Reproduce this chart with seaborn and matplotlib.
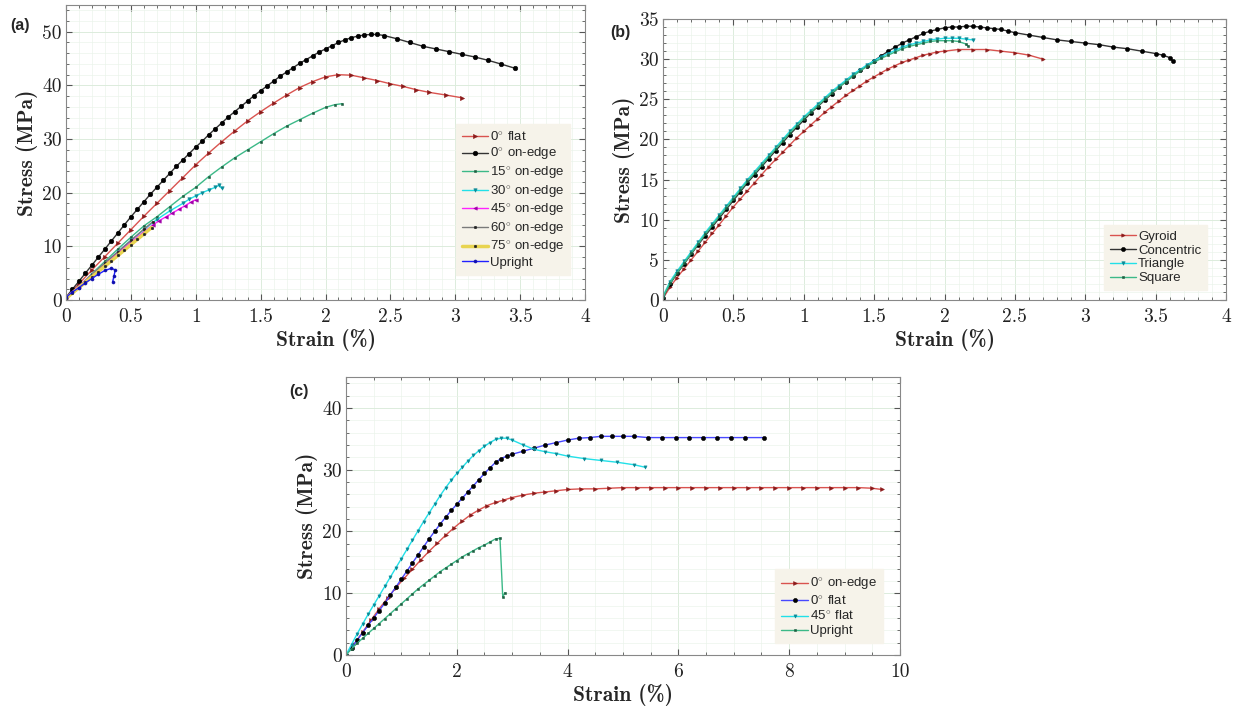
import matplotlib
matplotlib.use("Agg")
import matplotlib.pyplot as plt
import seaborn as sns
from matplotlib.ticker import MultipleLocator, FuncFormatter

# ---------------- (a) build orientation ----------------
a_flat0_x = [0, 0.1, 0.2, 0.3, 0.4, 0.5, 0.6, 0.7, 0.8, 0.9, 1.0, 1.1, 1.2, 1.3, 1.4, 1.5, 1.6, 1.7,
             1.8, 1.9, 2.0, 2.1, 2.2, 2.3, 2.4, 2.5, 2.6, 2.7, 2.8, 2.93, 3.05]
a_flat0_y = [0.5, 3.0, 5.6, 8.1, 10.6, 13.1, 15.6, 18.0, 20.4, 22.8, 25.2, 27.4, 29.5, 31.5, 33.4, 35.1,
             36.7, 38.2, 39.6, 40.7, 41.6, 42.0, 41.9, 41.4, 40.9, 40.3, 39.8, 39.2, 38.7, 38.2, 37.7]

a_edge0_x = [0, 0.05, 0.1, 0.15, 0.2, 0.25, 0.3, 0.35, 0.4, 0.45, 0.5, 0.55, 0.6, 0.65, 0.7, 0.75, 0.8,
             0.85, 0.9, 0.95, 1.0, 1.05, 1.1, 1.15, 1.2, 1.25, 1.3, 1.35, 1.4, 1.45, 1.5, 1.55, 1.6, 1.65,
             1.7, 1.75, 1.8, 1.85, 1.9, 1.95, 2.0, 2.05, 2.1, 2.15, 2.2, 2.25, 2.3, 2.35, 2.4, 2.45, 2.55,
             2.65, 2.75, 2.85, 2.95, 3.05, 3.15, 3.25, 3.35, 3.46]
a_edge0_y = [0.5, 2.0, 3.5, 5.0, 6.5, 8.0, 9.5, 11.0, 12.5, 14.0, 15.5, 16.9, 18.3, 19.7, 21.0, 22.3, 23.6,
             24.9, 26.1, 27.3, 28.5, 29.6, 30.8, 31.9, 33.0, 34.1, 35.1, 36.1, 37.1, 38.1, 39.0, 39.9, 40.8,
             41.7, 42.5, 43.3, 44.1, 44.8, 45.5, 46.2, 46.8, 47.4, 48.0, 48.5, 48.9, 49.2, 49.4, 49.5, 49.5,
             49.3, 48.7, 48.0, 47.3, 46.8, 46.3, 45.8, 45.3, 44.7, 44.0, 43.2]

a_edge15_x = [0, 0.1, 0.2, 0.3, 0.4, 0.5, 0.6, 0.7, 0.8, 0.9, 1.0, 1.1, 1.2, 1.3, 1.4, 1.5, 1.6, 1.7,
              1.8, 1.9, 2.0, 2.07, 2.13]
a_edge15_y = [0.2, 2.5, 4.9, 7.2, 9.5, 11.7, 13.8, 15.5, 17.4, 19.3, 21.0, 23.0, 24.8, 26.5, 28.0, 29.5,
              31.0, 32.4, 33.6, 34.8, 35.9, 36.4, 36.6]

a_edge30_x = [0, 0.1, 0.2, 0.3, 0.4, 0.5, 0.6, 0.7, 0.8, 0.9, 0.95, 1.0, 1.05, 1.1, 1.15, 1.18, 1.2]
a_edge30_y = [0.3, 2.4, 4.6, 6.8, 9.0, 11.1, 13.1, 15.0, 16.6, 18.0, 18.8, 19.4, 20.0, 20.5, 21.0, 21.4, 20.8]

a_edge45_x = [0, 0.1, 0.2, 0.3, 0.4, 0.5, 0.6, 0.67, 0.72, 0.77, 0.82, 0.87, 0.92, 0.96, 1.0]
a_edge45_y = [0.5, 2.6, 4.7, 6.8, 8.8, 10.8, 12.7, 14.0, 14.8, 15.5, 16.2, 16.9, 17.6, 18.2, 18.7]

a_edge60_x = [0, 0.1, 0.2, 0.3, 0.4, 0.5, 0.6, 0.67]
a_edge60_y = [0.3, 2.5, 4.7, 6.9, 9.0, 11.1, 13.2, 14.6]

a_edge75_x = [0, 0.05, 0.1, 0.15, 0.2, 0.25, 0.3, 0.35, 0.4, 0.45, 0.5, 0.55, 0.6, 0.66]
a_edge75_y = [0.3, 1.3, 2.3, 3.3, 4.3, 5.3, 6.3, 7.3, 8.3, 9.3, 10.3, 11.3, 12.3, 13.5]

a_up_x = [0, 0.05, 0.1, 0.15, 0.2, 0.25, 0.3, 0.35, 0.38, 0.37, 0.36]
a_up_y = [0.5, 1.5, 2.3, 3.2, 4.0, 4.8, 5.5, 5.9, 5.6, 4.5, 3.4]

# ---------------- (b) infill pattern ----------------
b_gyr_x = [0, 0.05, 0.1, 0.15, 0.2, 0.25, 0.3, 0.35, 0.4, 0.45, 0.5, 0.55, 0.6, 0.65, 0.7, 0.75, 0.8,
           0.85, 0.9, 0.95, 1.0, 1.05, 1.1, 1.15, 1.2, 1.25, 1.3, 1.35, 1.4, 1.45, 1.5, 1.55, 1.6, 1.65,
           1.7, 1.75, 1.8, 1.85, 1.9, 1.95, 2.0, 2.1, 2.2, 2.3, 2.4, 2.5, 2.6, 2.7]
b_gyr_y = [0.2, 1.6, 2.8, 3.9, 5.0, 6.1, 7.2, 8.3, 9.4, 10.5, 11.6, 12.6, 13.6, 14.6, 15.6, 16.6, 17.5,
           18.4, 19.3, 20.2, 21.0, 21.8, 22.6, 23.4, 24.1, 24.8, 25.5, 26.1, 26.7, 27.3, 27.8, 28.3, 28.8,
           29.2, 29.6, 29.9, 30.2, 30.5, 30.7, 30.9, 31.0, 31.2, 31.2, 31.2, 31.0, 30.8, 30.5, 30.0]

b_con_x = [0, 0.05, 0.1, 0.15, 0.2, 0.25, 0.3, 0.35, 0.4, 0.45, 0.5, 0.55, 0.6, 0.65, 0.7, 0.75, 0.8,
           0.85, 0.9, 0.95, 1.0, 1.05, 1.1, 1.15, 1.2, 1.25, 1.3, 1.35, 1.4, 1.45, 1.5, 1.55, 1.6, 1.65,
           1.7, 1.75, 1.8, 1.85, 1.9, 1.95, 2.0, 2.05, 2.1, 2.15, 2.2, 2.25, 2.3, 2.35, 2.4, 2.45, 2.5,
           2.6, 2.7, 2.8, 2.9, 3.0, 3.1, 3.2, 3.3, 3.4, 3.5, 3.55, 3.6, 3.62]
b_con_y = [0.3, 2.0, 3.3, 4.5, 5.7, 6.9, 8.0, 9.1, 10.2, 11.3, 12.4, 13.5, 14.6, 15.6, 16.6, 17.6, 18.6,
           19.6, 20.6, 21.5, 22.4, 23.3, 24.1, 24.9, 25.7, 26.5, 27.2, 27.9, 28.6, 29.2, 29.8, 30.4, 31.0,
           31.5, 32.0, 32.4, 32.8, 33.2, 33.5, 33.7, 33.9, 34.0, 34.0, 34.1, 34.1, 34.0, 33.9, 33.8, 33.7,
           33.5, 33.3, 33.0, 32.7, 32.4, 32.2, 32.0, 31.8, 31.5, 31.3, 31.0, 30.7, 30.5, 30.2, 29.8]

b_tri_x = [0, 0.05, 0.1, 0.15, 0.2, 0.25, 0.3, 0.35, 0.4, 0.45, 0.5, 0.55, 0.6, 0.65, 0.7, 0.75, 0.8,
           0.85, 0.9, 0.95, 1.0, 1.05, 1.1, 1.15, 1.2, 1.25, 1.3, 1.35, 1.4, 1.45, 1.5, 1.55, 1.6, 1.65,
           1.7, 1.75, 1.8, 1.85, 1.9, 1.95, 2.0, 2.05, 2.1, 2.15, 2.2]
b_tri_y = [0.5, 2.3, 3.6, 4.8, 6.0, 7.2, 8.4, 9.5, 10.6, 11.7, 12.8, 13.9, 15.0, 16.0, 17.0, 18.0, 19.0,
           20.0, 21.0, 21.9, 22.8, 23.6, 24.4, 25.2, 26.0, 26.7, 27.4, 28.1, 28.7, 29.3, 29.8, 30.3, 30.7,
           31.1, 31.5, 31.8, 32.0, 32.2, 32.4, 32.5, 32.6, 32.6, 32.6, 32.5, 32.4]

b_sq_x = [0, 0.05, 0.1, 0.15, 0.2, 0.25, 0.3, 0.35, 0.4, 0.45, 0.5, 0.55, 0.6, 0.65, 0.7, 0.75, 0.8,
          0.85, 0.9, 0.95, 1.0, 1.05, 1.1, 1.15, 1.2, 1.25, 1.3, 1.35, 1.4, 1.45, 1.5, 1.55, 1.6, 1.65,
          1.7, 1.75, 1.8, 1.85, 1.9, 1.95, 2.0, 2.05, 2.1, 2.15, 2.17]
b_sq_y = [0.4, 2.1, 3.4, 4.6, 5.8, 7.0, 8.2, 9.3, 10.4, 11.5, 12.6, 13.7, 14.8, 15.8, 16.8, 17.8, 18.8,
          19.8, 20.8, 21.7, 22.6, 23.4, 24.2, 25.0, 25.8, 26.5, 27.2, 27.9, 28.5, 29.1, 29.6, 30.1, 30.5,
          30.9, 31.3, 31.6, 31.8, 32.0, 32.2, 32.3, 32.3, 32.3, 32.2, 31.9, 31.6]

# ---------------- (c) printing orientation ----------------
c_edge0_x = [0, 0.15, 0.3, 0.45, 0.6, 0.75, 0.9, 1.05, 1.2, 1.35, 1.5, 1.65, 1.8, 1.95, 2.1, 2.25, 2.4,
             2.55, 2.7, 2.85, 3.0, 3.2, 3.4, 3.6, 3.8, 4.0, 4.25, 4.5, 4.75, 5.0, 5.25, 5.5, 5.75, 6.0,
             6.25, 6.5, 6.75, 7.0, 7.25, 7.5, 7.75, 8.0, 8.25, 8.5, 8.75, 9.0, 9.25, 9.5, 9.67]
c_edge0_y = [0, 1.8, 3.7, 5.6, 7.5, 9.2, 10.9, 12.4, 13.9, 15.4, 16.8, 18.1, 19.4, 20.6, 21.7, 22.7, 23.5,
             24.2, 24.7, 25.1, 25.5, 25.9, 26.2, 26.4, 26.6, 26.8, 26.9, 26.9, 27.0, 27.1, 27.1, 27.1,
             27.1, 27.1, 27.1, 27.1, 27.1, 27.1, 27.1, 27.1, 27.1, 27.1, 27.1, 27.1, 27.1, 27.1, 27.1,
             27.0, 26.8]

c_flat0_x = [0, 0.1, 0.2, 0.3, 0.4, 0.5, 0.6, 0.7, 0.8, 0.9, 1.0, 1.1, 1.2, 1.3, 1.4, 1.5, 1.6, 1.7,
             1.8, 1.9, 2.0, 2.1, 2.2, 2.3, 2.4, 2.5, 2.6, 2.7, 2.8, 2.9, 3.0, 3.2, 3.4, 3.6, 3.8, 4.0,
             4.2, 4.4, 4.6, 4.8, 5.0, 5.2, 5.45, 5.7, 5.95, 6.2, 6.45, 6.7, 6.95, 7.2, 7.55]
c_flat0_y = [0, 1.2, 2.4, 3.6, 4.8, 6.0, 7.2, 8.4, 9.7, 11.0, 12.3, 13.6, 14.9, 16.2, 17.5, 18.8, 20.0,
             21.2, 22.3, 23.4, 24.4, 25.4, 26.4, 27.4, 28.4, 29.4, 30.3, 31.2, 31.8, 32.2, 32.5, 33.0,
             33.5, 34.0, 34.4, 34.8, 35.1, 35.2, 35.4, 35.4, 35.4, 35.4, 35.2, 35.2, 35.2, 35.2, 35.2,
             35.2, 35.2, 35.2, 35.2]

c_flat45_x = [0, 0.1, 0.2, 0.3, 0.4, 0.5, 0.6, 0.7, 0.8, 0.9, 1.0, 1.1, 1.2, 1.3, 1.4, 1.5, 1.6, 1.7,
              1.8, 1.9, 2.0, 2.1, 2.2, 2.3, 2.4, 2.5, 2.6, 2.7, 2.8, 2.9, 3.0, 3.2, 3.4, 3.6, 3.8, 4.0,
              4.3, 4.6, 4.9, 5.2, 5.4]
c_flat45_y = [0, 1.7, 3.4, 5.0, 6.6, 8.1, 9.6, 11.1, 12.6, 14.1, 15.6, 17.1, 18.6, 20.1, 21.6, 23.0,
              24.4, 25.8, 27.1, 28.3, 29.4, 30.4, 31.4, 32.3, 33.1, 33.8, 34.4, 34.9, 35.1, 35.1, 34.8,
              34.0, 33.3, 32.9, 32.6, 32.2, 31.8, 31.5, 31.2, 30.8, 30.4]

c_up_x = [0, 0.1, 0.2, 0.3, 0.4, 0.5, 0.6, 0.7, 0.8, 0.9, 1.0, 1.1, 1.2, 1.3, 1.4, 1.5, 1.6, 1.7, 1.8,
          1.9, 2.0, 2.1, 2.2, 2.3, 2.4, 2.5, 2.6, 2.7, 2.78, 2.83, 2.87]
c_up_y = [0, 1.0, 1.9, 2.7, 3.5, 4.3, 5.1, 5.9, 6.7, 7.5, 8.3, 9.1, 9.9, 10.7, 11.4, 12.1, 12.8, 13.5,
          14.1, 14.7, 15.3, 15.9, 16.4, 16.9, 17.4, 17.8, 18.3, 18.8, 18.9, 9.4, 10.1]

DEG = r"$^{\circ}$"

sns.set_style("ticks")
plt.rcParams["font.family"] = ["cmr10", "DejaVu Serif"]
plt.rcParams["mathtext.fontset"] = "cm"
plt.rcParams["axes.formatter.use_mathtext"] = True
plt.rcParams["axes.unicode_minus"] = False

fig = plt.figure(figsize=(12.4, 7.07), dpi=100)
ax_a = fig.add_axes([0.0532, 0.5757, 0.4186, 0.4173])
ax_b = fig.add_axes([0.5347, 0.5757, 0.4540, 0.3974])
ax_c = fig.add_axes([0.2790, 0.0735, 0.4468, 0.3932])


def draw_curve(ax, x, y, label, line, mark, marker, ms=3.0, lw=1.0):
    sns.lineplot(x=x, y=y, ax=ax, color=line, lw=lw, marker=marker, markersize=ms,
                 markerfacecolor=mark, markeredgecolor=mark, markeredgewidth=0.4,
                 label=label, sort=False, estimator=None)


def style_axes(ax, xlim, ylim, xmaj, xmin, ymaj, ymin, legend_anchor):
    ax.set_xlim(*xlim)
    ax.set_ylim(*ylim)
    ax.xaxis.set_major_locator(MultipleLocator(xmaj))
    ax.xaxis.set_minor_locator(MultipleLocator(xmin))
    ax.yaxis.set_major_locator(MultipleLocator(ymaj))
    ax.yaxis.set_minor_locator(MultipleLocator(ymin))
    fmt = FuncFormatter(lambda v, _: f"{v:g}")
    ax.xaxis.set_major_formatter(fmt)
    ax.yaxis.set_major_formatter(fmt)
    ax.grid(which="major", color="#dcecdc", lw=0.7)
    ax.grid(which="minor", color="#ebf4eb", lw=0.5)
    ax.set_axisbelow(True)
    ax.tick_params(which="both", direction="in", top=True, right=True, colors="#555555",
                   labelcolor="#222222", labelsize=14)
    ax.tick_params(axis="x", pad=6)
    ax.tick_params(axis="y", pad=3)
    ax.tick_params(which="major", length=4)
    ax.tick_params(which="minor", length=2)
    for s in ax.spines.values():
        s.set_color("#888888")
        s.set_linewidth(0.8)
    ax.set_xlabel("Strain (%)", family="cmb10", fontsize=15.5, labelpad=2)
    ax.set_ylabel("Stress (MPa)", family="cmb10", fontsize=15.5, labelpad=3)
    h, l = ax.get_legend_handles_labels()
    leg = ax.legend(h, l, loc="lower right", bbox_to_anchor=legend_anchor, frameon=True,
                    fancybox=False, framealpha=1, facecolor="#f6f3ea", edgecolor="#f6f3ea",
                    prop={"family": "Liberation Sans", "size": 9.5}, handlelength=2.0,
                    handletextpad=0.15, labelspacing=0.12, borderpad=0.45, borderaxespad=0)
    return leg


# (a)
draw_curve(ax_a, a_flat0_x, a_flat0_y, "0" + DEG + " flat", "#d9534f", "#8b1a1a", ">")
draw_curve(ax_a, a_edge0_x, a_edge0_y, "0" + DEG + " on-edge", "#333333", "#000000", "o", ms=3.3)
draw_curve(ax_a, a_edge15_x, a_edge15_y, "15" + DEG + " on-edge", "#3cb988", "#1d5e40", "s", ms=2)
draw_curve(ax_a, a_edge30_x, a_edge30_y, "30" + DEG + " on-edge", "#22e0e8", "#0a8a96", "v", ms=2.5)
draw_curve(ax_a, a_edge45_x, a_edge45_y, "45" + DEG + " on-edge", "#ff22ff", "#a000a8", "<", ms=2.5)
draw_curve(ax_a, a_edge60_x, a_edge60_y, "60" + DEG + " on-edge", "#7a7a7a", "#222222", "o", ms=1.8)
draw_curve(ax_a, a_edge75_x, a_edge75_y, "75" + DEG + " on-edge", "#e8d450", "#222222", "o", ms=1.8, lw=2.5)
draw_curve(ax_a, a_up_x, a_up_y, "Upright", "#2020ff", "#1010b0", "o", ms=2.2)
style_axes(ax_a, (0, 4), (0, 55), 0.5, 0.1, 10, 2, (0.972, 0.085))

# (b)
draw_curve(ax_b, b_gyr_x, b_gyr_y, "Gyroid", "#d9534f", "#8b1a1a", ">", ms=2.5)
draw_curve(ax_b, b_con_x, b_con_y, "Concentric", "#333333", "#000000", "o", ms=3.0)
draw_curve(ax_b, b_tri_x, b_tri_y, "Triangle", "#22e0e8", "#0a8a96", "v", ms=2.5)
draw_curve(ax_b, b_sq_x, b_sq_y, "Square", "#3cb988", "#1d5e40", "s", ms=1.8)
style_axes(ax_b, (0, 4), (0, 35), 0.5, 0.1, 5, 1, (0.967, 0.035))

# (c)
draw_curve(ax_c, c_edge0_x, c_edge0_y, "0" + DEG + " on-edge", "#d9534f", "#8b1a1a", ">", ms=2.8)
draw_curve(ax_c, c_flat0_x, c_flat0_y, "0" + DEG + " flat", "#4848ff", "#000000", "o", ms=3.0)
draw_curve(ax_c, c_flat45_x, c_flat45_y, "45" + DEG + " flat", "#22e0e8", "#0a8a96", "v", ms=2.3)
draw_curve(ax_c, c_up_x, c_up_y, "Upright", "#3cb988", "#1d5e40", "s", ms=1.8)
style_axes(ax_c, (0, 10), (0, 45), 2, 0.5, 10, 2, (0.969, 0.043))

for txt, xx, yy in [("(a)", 0.008, 0.957), ("(b)", 0.492, 0.948), ("(c)", 0.233, 0.44)]:
    fig.text(xx, yy, txt, family="Liberation Sans", weight="bold", fontsize=11.5)

fig.savefig("out.png", dpi=100)
